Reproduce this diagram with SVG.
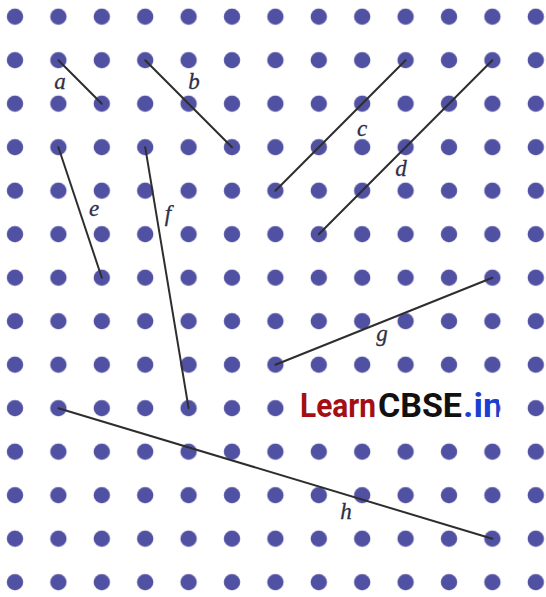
<svg xmlns="http://www.w3.org/2000/svg" width="546" height="597" viewBox="0 0 546 597">
  <style>
    .ln { stroke: #2e2e2e; stroke-width: 2; stroke-linecap: round; fill: none; }
    .lbl { font-family: "Liberation Serif", "DejaVu Serif", serif; font-style: italic; font-size: 23px; fill: #2c3048; stroke: #2c3048; stroke-width: 0.3; text-anchor: middle; }
    .wm { font-family: Roboto, "Liberation Sans", sans-serif; font-weight: bold; font-size: 33px; }
  </style>
  <defs>
    <pattern id="dots" patternUnits="userSpaceOnUse" x="-6.7" y="-5.05" width="43.4" height="43.5">
      <circle cx="21.7" cy="21.75" r="8.2" fill="#5151a3"/>
    </pattern>
    <clipPath id="wmclip"><rect x="290" y="385" width="209" height="45"/></clipPath>
  </defs>
  <rect width="546" height="597" fill="#ffffff"/>
  <g id="grid">
    <rect x="0" y="0" width="546" height="597" fill="url(#dots)"/>
  </g>
  <g id="connectors">
    <line id="a" class="ln" x1="58.4" y1="60.2" x2="101.8" y2="103.7"/>
    <line id="b" class="ln" x1="145.2" y1="60.2" x2="232" y2="147.2"/>
    <line id="c" class="ln" x1="275.4" y1="190.7" x2="405.6" y2="60.2"/>
    <line id="d" class="ln" x1="318.8" y1="234.2" x2="492.4" y2="60.2"/>
    <line id="e" class="ln" x1="58.4" y1="147.2" x2="101.8" y2="277.7"/>
    <line id="f" class="ln" x1="145.2" y1="147.2" x2="188.6" y2="408.2"/>
    <line id="g" class="ln" x1="275.4" y1="364.7" x2="492.4" y2="277.7"/>
    <line id="h" class="ln" x1="58.4" y1="408.2" x2="492.4" y2="538.7"/>
  </g>
  <g id="labels">
    <text class="lbl" x="60" y="89">a</text>
    <text class="lbl" x="194" y="89">b</text>
    <text class="lbl" x="362" y="136">c</text>
    <text class="lbl" x="401" y="176">d</text>
    <text class="lbl" x="94" y="216">e</text>
    <text class="lbl" x="168" y="221">f</text>
    <text class="lbl" x="382" y="341">g</text>
    <text class="lbl" x="346" y="519">h</text>
  </g>
  <g id="watermark">
    <rect x="292" y="388" width="207" height="40" fill="#ffffff"/>
    <g clip-path="url(#wmclip)">
      <text class="wm" x="300" y="417" fill="#a30f14" textLength="76" lengthAdjust="spacingAndGlyphs">Learn</text>
      <text class="wm" x="378" y="417" fill="#111111" textLength="84" lengthAdjust="spacingAndGlyphs">CBSE</text>
      <text class="wm" x="463" y="417" fill="#1b3fd1" textLength="40" lengthAdjust="spacingAndGlyphs">.in</text>
    </g>
  </g>
</svg>
